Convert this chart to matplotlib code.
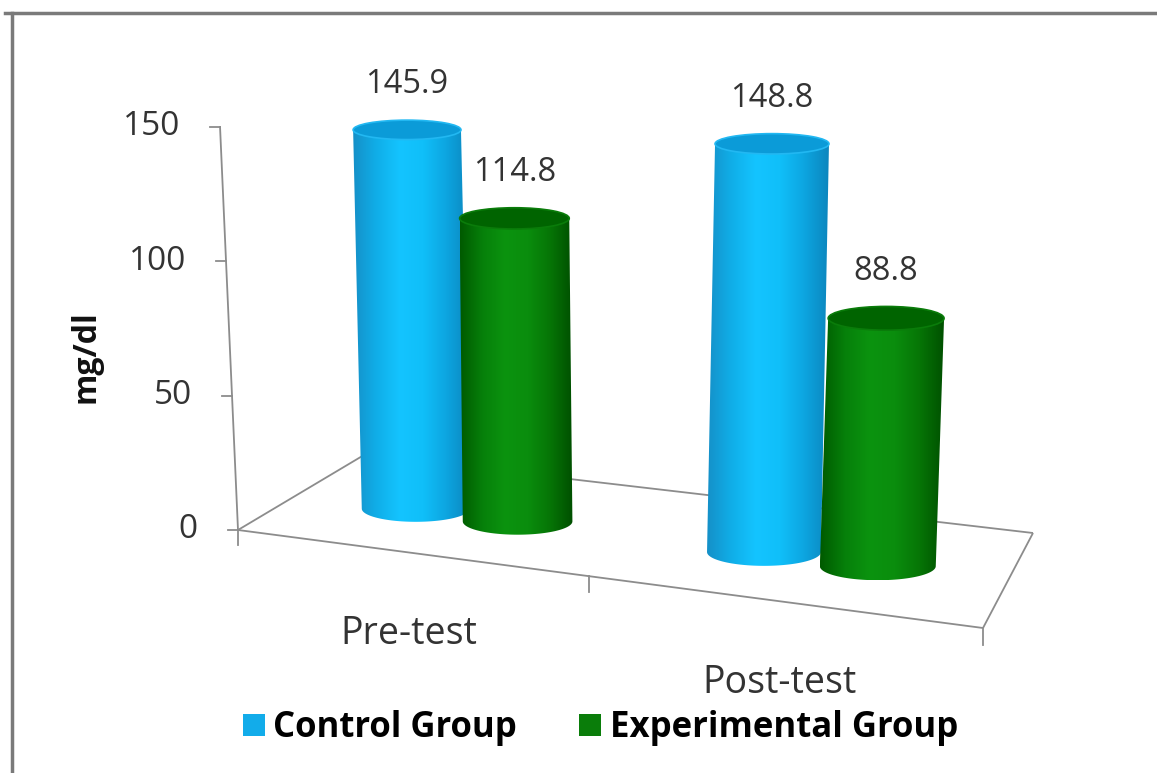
import numpy as np
import matplotlib
matplotlib.use("Agg")
import matplotlib.pyplot as plt
from matplotlib.patches import Polygon, Ellipse, Patch
from matplotlib.colors import LinearSegmentedColormap
from matplotlib.lines import Line2D

# ---------------- data ----------------
categories = ["Pre-test", "Post-test"]
series_names = ["Control Group", "Experimental Group"]
control = [145.9, 148.8]
experimental = [114.8, 88.8]
y_ticks = [0, 50, 100, 150]
y_label = "mg/dl"

# ---------------- figure / axes ----------------
W, H = 1157, 773
fig = plt.figure(figsize=(W / 100, H / 100), dpi=100)
fig.patch.set_facecolor("white")
ax = fig.add_axes([0, 0, 1, 1])
PXX, PXY = 372.5, 2.687            # pixels per data unit (x: category, y: mg/dl)
X0, Y0 = 238, 530                  # pixel of the front-left floor corner
ax.set_xlim(-X0 / PXX, (W - X0) / PXX)
ax.set_ylim(-(H - Y0) / PXY, Y0 / PXY)
ax.axis("off")

FONT = ["Open Sans", "DejaVu Sans"]
TXT = "#333333"

# floor corners (front-left, front-right, back-left, back-right) in data units
FL = (0.0, 0.0)
FR = (745 / PXX, -98 / PXY)
BL = (126 / PXX, 75 / PXY)
BR = (795 / PXX, -3 / PXY)


def homography(src, dst):
    A, b = [], []
    for (s, t), (x, y) in zip(src, dst):
        A.append([s, t, 1, 0, 0, 0, -x * s, -x * t]); b.append(x)
        A.append([0, 0, 0, s, t, 1, -y * s, -y * t]); b.append(y)
    h = np.linalg.solve(np.array(A, float), np.array(b, float))
    return np.append(h, 1.0).reshape(3, 3)


HM = homography([(0, 0), (1, 0), (0, 1), (1, 1)], [FL, FR, BL, BR])
NCAT = len(categories)


def floor_pt(u, d):
    p = HM @ np.array([u / NCAT, d, 1.0])
    return p[0] / p[2], p[1] / p[2], 1.0 / p[2]


XC, LEAN = 0.98, 3.28e-4          # vertical convergence (perspective lean)


def vert_pt(u, d, v):
    xb, yb, s = floor_pt(u, d)
    h = v * s
    return xb + (xb - XC) * LEAN * h, yb + h


# ---------------- floor outline ----------------
floor_col = "#8c8c8c"
for (u1, d1), (u2, d2) in [((0, 0), (NCAT, 0)), ((NCAT, 0), (NCAT, 1)),
                           ((0, 1), (NCAT, 1)), ((0, 0), (0, 1))]:
    us = np.linspace(u1, u2, 30); ds = np.linspace(d1, d2, 30)
    pts = np.array([floor_pt(a, b)[:2] for a, b in zip(us, ds)])
    ax.plot(pts[:, 0], pts[:, 1], color=floor_col, lw=1.3, zorder=1,
            solid_capstyle="butt")

# category ticks on the front edge
for i in range(NCAT + 1):
    x, y, s = floor_pt(i, 0)
    ax.plot([x, x], [y, y - 5.6 * s], color=floor_col, lw=1.3, zorder=1)

# value axis
vs = np.linspace(0, max(y_ticks), 20)
ap = np.array([vert_pt(0, 0, v) for v in vs])
ax.plot(ap[:, 0], ap[:, 1], color=floor_col, lw=1.3, zorder=1)
for v in y_ticks:
    x, y = vert_pt(0, 0, v)
    ax.plot([x - 10 / PXX, x], [y, y], color=floor_col, lw=1.3, zorder=1)
    ax.text(x - 40 / PXX, y, str(v), ha="right", va="center",
            fontsize=24, color=TXT, family=FONT)

# category labels
for i, name in enumerate(categories):
    x, y, s = floor_pt(i + 0.5, 0)
    ax.text(x, y - 30.5, name, ha="center", va="center",
            fontsize=27, color=TXT, family=FONT)

# ---------------- cylinders ----------------
blue_cmap = LinearSegmentedColormap.from_list(
    "b", ["#1590c8", "#10aee8", "#14c4ff", "#10bff9", "#0da5e0", "#0c86be"])
green_cmap = LinearSegmentedColormap.from_list(
    "g", ["#005a00", "#06800a", "#0b930f", "#0a8d0d", "#067506", "#004f00"])
series = [(control, blue_cmap, "#0b9bd8", "#22b8f2"),
          (experimental, green_cmap, "#006400", "#0a7c0a")]

BAR_DEPTH = 0.45
RX = 0.1498
RYB = 5.05
RY_SHRINK = 0.009
GROUP_SHIFT = 0.015
BAR_OFF = 0.152
grad = np.linspace(0, 1, 256).reshape(1, -1)

z = 3
for i in range(NCAT):
    for j, (vals, cmap, top_c, rim_c) in enumerate(series):
        v = vals[i]
        u = i + 0.5 + GROUP_SHIFT + (j - 0.5) * 2 * BAR_OFF
        xb, yb, s = floor_pt(u, BAR_DEPTH)
        rx = RX * s
        h = v * s
        ryb = RYB * s
        ryt = (RYB - RY_SHRINK * v) * s
        dx = (xb - XC) * LEAN * h
        xt, yt = xb + dx, yb + h
        th = np.linspace(0, -np.pi, 80)
        bottom = np.column_stack([xb + rx * np.cos(th), yb + ryb * np.sin(th)])
        verts = np.vstack([[[xt + rx, yt]], bottom, [[xt - rx, yt]]])
        body = Polygon(verts, closed=True, facecolor="none", edgecolor="none",
                       zorder=z)
        ax.add_patch(body)
        im = ax.imshow(grad, cmap=cmap, aspect="auto", interpolation="bilinear",
                       extent=[min(xb, xt) - rx, max(xb, xt) + rx, yb - ryb, yt],
                       zorder=z)
        im.set_clip_path(body)
        ax.add_patch(Ellipse((xt, yt), 2 * rx, 2 * ryt, facecolor=top_c,
                             edgecolor=rim_c, lw=1.2, zorder=z + 0.5))
        ax.text(xt, yt + ryt + 10, f"{v:.1f}", ha="center", va="baseline",
                fontsize=23.5, color=TXT, family=FONT, zorder=z + 1)
        z += 2

ax.set_xlim(-X0 / PXX, (W - X0) / PXX)
ax.set_ylim(-(H - Y0) / PXY, Y0 / PXY)

# ---------------- y label ----------------
fig.text(86 / W, 1 - 357 / H, y_label, rotation=90, ha="center", va="center",
         fontsize=23, fontweight="bold", color="#111111", family=FONT)

# ---------------- legend ----------------
handles = [Patch(facecolor="#12acea", edgecolor="none", label=series_names[0]),
           Patch(facecolor="#0a7d0a", edgecolor="none", label=series_names[1])]
fig.legend(handles=handles, loc="center", bbox_to_anchor=(0.519, 0.058),
           ncol=2, frameon=False, handlelength=0.62, handleheight=0.62,
           handletextpad=0.25, columnspacing=1.8,
           prop={"family": FONT, "size": 25, "weight": "bold"})

# ---------------- outer frame ----------------
fig.add_artist(Line2D([5 / W, 1], [1 - 13 / H, 1 - 13 / H], transform=fig.transFigure,
                      color="#7a7a7a", lw=2.5))
fig.add_artist(Line2D([12 / W, 12 / W], [0, 1 - 13 / H], transform=fig.transFigure,
                      color="#7a7a7a", lw=2.5))

fig.savefig("out.png", dpi=100, facecolor="white")
